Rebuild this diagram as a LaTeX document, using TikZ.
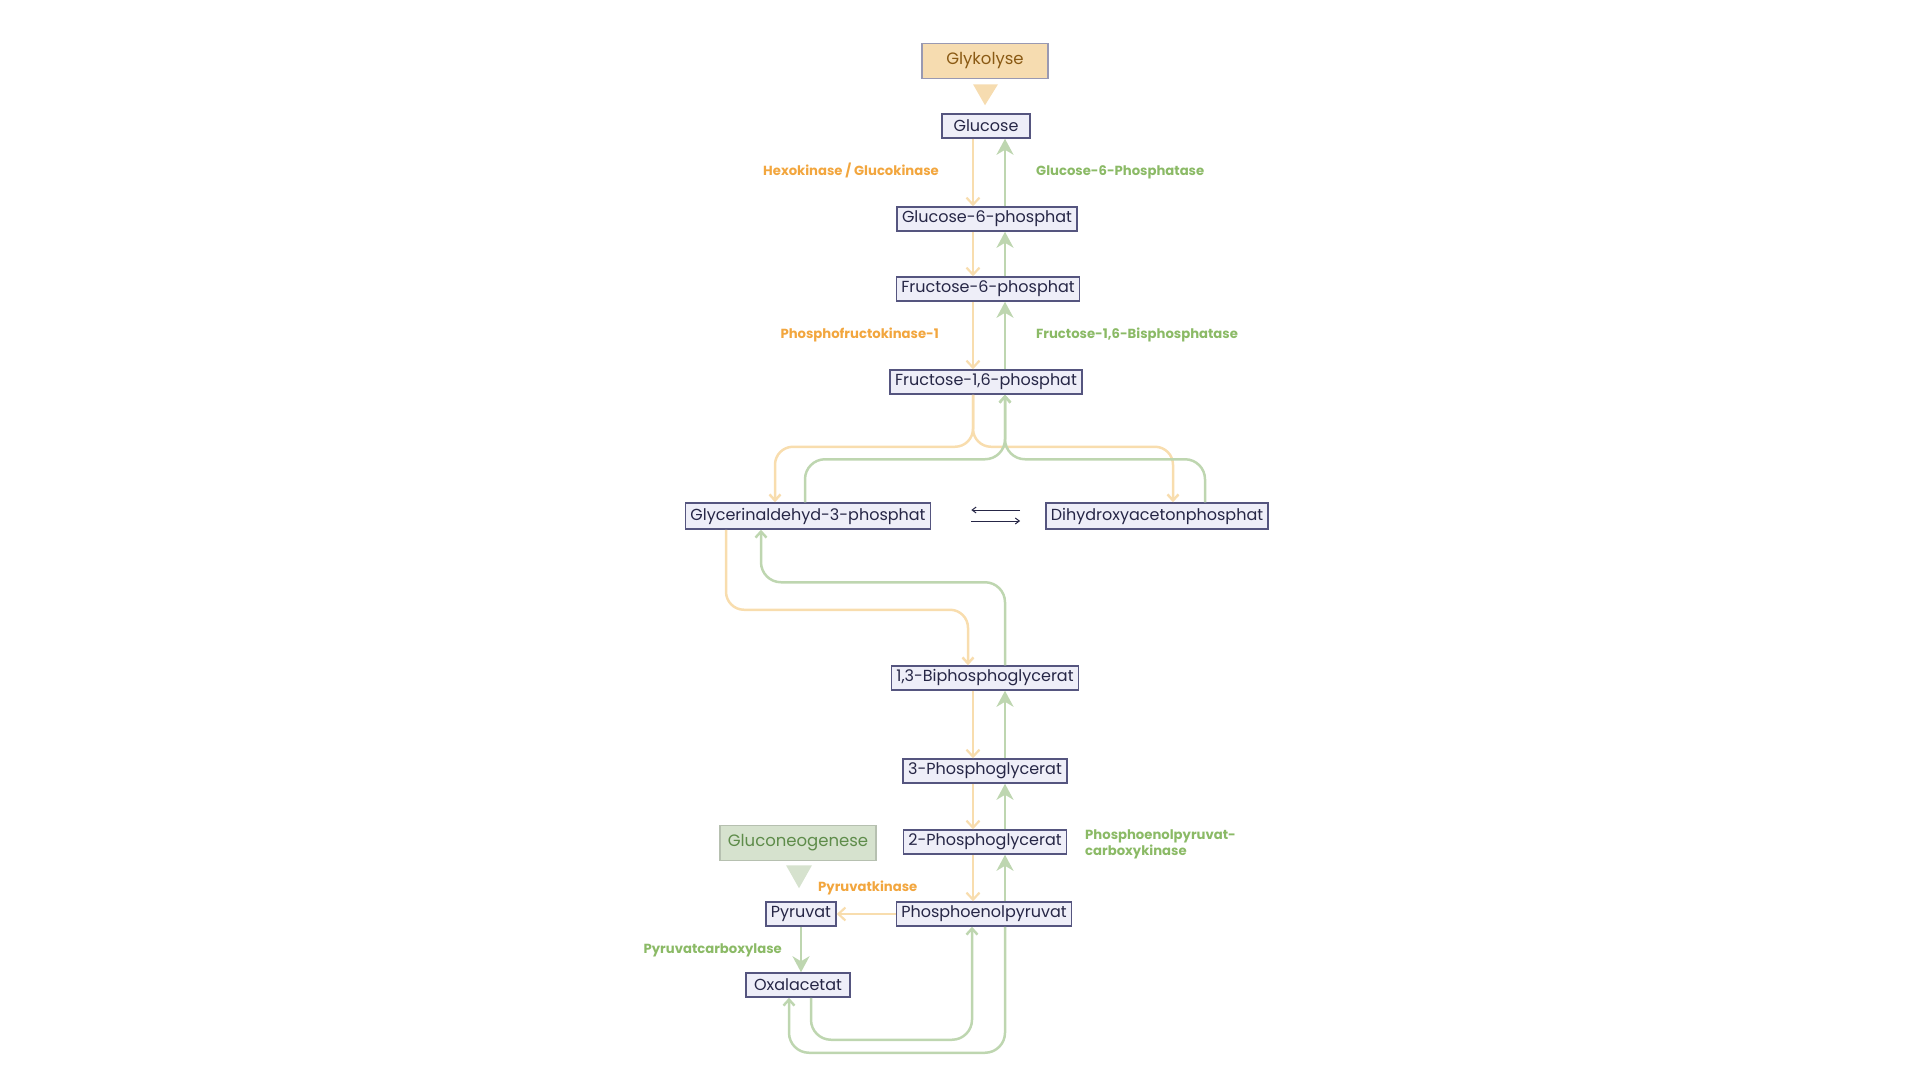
\documentclass[tikz,border=0pt]{standalone}
\usepackage{fontspec}
\setmainfont{Poppins}
\usetikzlibrary{arrows.meta}

\definecolor{glyline}{HTML}{F8DDAE}
\definecolor{glytext}{HTML}{F2A63E}
\definecolor{glyfill}{HTML}{F6DCB0}
\definecolor{glyhead}{HTML}{8A5A14}
\definecolor{gngline}{HTML}{BED6B0}
\definecolor{gngtext}{HTML}{8BBA66}
\definecolor{gngfill}{HTML}{D6E2CE}
\definecolor{gnghead}{HTML}{5E8C4A}
\definecolor{boxfill}{HTML}{EEEEF8}
\definecolor{boxdraw}{HTML}{55557F}
\definecolor{boxtext}{HTML}{262646}

\tikzset{
  metab/.style={draw=boxdraw, fill=boxfill, line width=1.5pt, text=boxtext,
    font=\fontsize{16}{18}\selectfont, inner xsep=5pt, inner ysep=0pt, minimum height=24pt},
  pathway/.style={line width=1.5pt, font=\fontsize{16.5}{18}\selectfont, minimum height=35pt, inner xsep=8pt},
  enzgly/.style={text=glytext, font=\bfseries\fontsize{13.2}{16}\selectfont, inner sep=0pt},
  enzgng/.style={text=gngtext, font=\bfseries\fontsize{13.2}{16}\selectfont, inner sep=0pt},
  glyarrow/.style={glyline, line width=2.2pt, -{Straight Barb[length=7pt,width=13pt]}},
  gngarrow/.style={gngline, line width=2.5pt, -{Stealth[length=16pt,width=17pt,inset=5pt]}},
  glybranch/.style={glyline, line width=2.5pt, rounded corners=18pt, -{Straight Barb[length=6pt,width=11pt]}},
  gngbranch/.style={gngline, line width=2.5pt, rounded corners=20pt, -{Straight Barb[length=6pt,width=11pt]}},
  equil/.style={boxtext, line width=1pt, -{Straight Barb[length=4pt,width=6pt]}}
}

\begin{document}
\begin{tikzpicture}[x=1pt,y=-1pt]
\useasboundingbox (0,0) rectangle (1920,1080);
\coordinate (dn) at (973,0);
\coordinate (up) at (1005,0);

\node[pathway, draw=boxdraw!60, fill=glyfill, text=glyhead, minimum width=126pt] (glykolyse) at (985,61) {Glykolyse};
\fill[glyfill] ([xshift=-12pt,yshift=-5pt]glykolyse.south) -- ([xshift=13pt,yshift=-5pt]glykolyse.south) -- ([yshift=-26pt]glykolyse.south) -- cycle;

\node[metab, minimum width=88pt] (glucose) at (986,126) {Glucose};
\node[metab] (g6p) at (987,219) {Glucose-6-phosphat};
\node[metab] (f6p) at (988,289) {Fructose-6-phosphat};
\node[metab] (f16p) at (986,382) {Fructose-1,6-phosphat};
\node[metab, minimum height=26pt] (g3p) at (808,516) {Glycerinaldehyd-3-phosphat};
\node[metab, minimum height=26pt] (dhap) at (1157,516) {Dihydroxyacetonphosphat};
\node[metab] (bpg) at (985,678) {1,3-Biphosphoglycerat};
\node[metab] (pg3) at (985,771) {3-Phosphoglycerat};
\node[metab] (pg2) at (985,842) {2-Phosphoglycerat};
\node[metab] (pep) at (984,914) {Phosphoenolpyruvat};
\node[metab] (pyr) at (801,914) {Pyruvat};
\node[metab, minimum width=104pt] (oxa) at (798,985) {Oxalacetat};

\node[pathway, draw=gngline!70!black!60, fill=gngfill, text=gnghead, minimum width=156pt] (gng) at (798,843) {Gluconeogenese};
\fill[gngfill] ([xshift=-12pt,yshift=-4pt]gng.south) -- ([xshift=14pt,yshift=-4pt]gng.south) -- ([xshift=1pt,yshift=-27pt]gng.south) -- cycle;

\node[enzgly, anchor=base east] (hk) at (939,175.5) {Hexokinase / Glucokinase};
\node[enzgng, anchor=base west] (g6pase) at (1036,175.5) {Glucose-6-Phosphatase};
\node[enzgly, anchor=base east] (pfk) at (939,338.5) {Phosphofructokinase-1};
\node[enzgng, anchor=base west] (fbpase) at (1036,338.5) {Fructose-1,6-Bisphosphatase};
\node[enzgng, anchor=base west, align=left] (pepck) at (1085,855) {Phosphoenolpyruvat-\\carboxykinase};
\node[enzgly, anchor=base west] (pk) at (818,891.5) {Pyruvatkinase};
\node[enzgng, anchor=base east] (pc) at (782,953.5) {Pyruvatcarboxylase};

\draw[glyarrow] (glucose.south -| dn) -- (g6p.north -| dn);
\draw[glyarrow] (g6p.south -| dn) -- (f6p.north -| dn);
\draw[glyarrow] (f6p.south -| dn) -- (f16p.north -| dn);
\draw[glyarrow] (bpg.south -| dn) -- (pg3.north -| dn);
\draw[glyarrow] (pg3.south -| dn) -- (pg2.north -| dn);
\draw[glyarrow] (pg2.south -| dn) -- (pep.north -| dn);
\draw[gngarrow] (g6p.north -| up) -- (glucose.south -| up);
\draw[gngarrow] (f6p.north -| up) -- (g6p.south -| up);
\draw[gngarrow] (f16p.north -| up) -- (f6p.south -| up);
\draw[gngarrow] (pg3.north -| up) -- (bpg.south -| up);
\draw[gngarrow] (pg2.north -| up) -- (pg3.south -| up);
\draw[gngarrow] (pep.north -| up) -- (pg2.south -| up);

\draw[glybranch] (f16p.south -| dn) -- ++(0,52) -| ([xshift=-33pt]g3p.north);
\draw[glybranch] (f16p.south -| dn) -- ++(0,52) -| ([xshift=16pt]dhap.north);
\draw[gngbranch] ([xshift=-3pt]g3p.north) -- ++(0,-43) -| (f16p.south -| up);
\draw[gngbranch] ([xshift=48pt]dhap.north) -- ++(0,-43) -| (f16p.south -| up);

\draw[equil] ([yshift=6pt]dhap.west) -- ([yshift=6pt]g3p.east) [shorten <=25pt, shorten >=40pt];
\draw[equil] ([yshift=-5pt]g3p.east) -- ([yshift=-5pt]dhap.west) [shorten <=40pt, shorten >=25pt];

\draw[glybranch] ([xshift=-82pt]g3p.south) -- ++(0,80) -| ([xshift=-17pt]bpg.north);
\draw[gngbranch] ([xshift=20pt]bpg.north) -- ++(0,-83) -| ([xshift=-47pt]g3p.south);

\draw[glyarrow] (pep.west) -- (pyr.east);
\draw[gngarrow] (pyr.south) -- (pyr.south |- oxa.north);
\draw[gngbranch] ([xshift=13pt]oxa.south) -- ++(0,42) -| ([xshift=-12pt]pep.south);
\draw[gngbranch] (pep.south -| up) -- ++(0,126) -| ([xshift=-9pt]oxa.south);
\end{tikzpicture}
\end{document}
